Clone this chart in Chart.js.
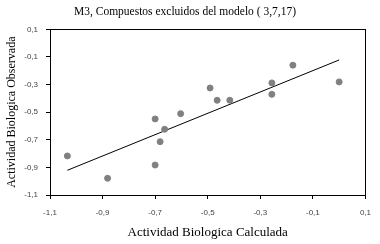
<!DOCTYPE html>
<html>
<head>
<meta charset="utf-8">
<script src="https://cdn.jsdelivr.net/npm/chart.js@4"></script>
<style>
  html, body { margin: 0; padding: 0; background: #fff; }
  #wrap { width: 380px; height: 244px; }
</style>
</head>
<body>
<div id="wrap"><canvas id="myChart"></canvas></div>
<script>
// calculated (x) vs observed (y) activity
const calculada = [-1.034, -0.881, -0.700, -0.700, -0.681, -0.664, -0.603, -0.491, -0.464, -0.416, -0.256, -0.256, -0.176, 0.000];
const observada = [-0.817, -0.979, -0.549, -0.883, -0.714, -0.624, -0.511, -0.325, -0.414, -0.414, -0.288, -0.371, -0.160, -0.281];

// fitted line end points
const lineX = [-1.034, 0.000];
const lineY = [-0.921, -0.122];

const xTicks = [-1.1, -0.9, -0.7, -0.5, -0.3, -0.1, 0.1];
const yTicks = [-1.1, -0.9, -0.7, -0.5, -0.3, -0.1, 0.1];

const fmt = (v) => v.toFixed(1).replace('.', ',');

// frame around plot area
const frame = {
    id: 'frame',
    afterDraw(chart) {
        const a = chart.chartArea;
        const ctx = chart.ctx;
        ctx.save();
        ctx.strokeStyle = '#000';
        ctx.lineWidth = 1;
        ctx.strokeRect(Math.round(a.left) + 0.5, Math.round(a.top) + 0.5, Math.round(a.right - a.left), Math.round(a.bottom - a.top));
        ctx.restore();
    }
};

const ctx = document.getElementById('myChart').getContext('2d');
new Chart(ctx, {
    type: 'scatter',
    data: {
        datasets: [
            {
                data: calculada.map((x, i) => ({ x: x, y: observada[i] })),
                backgroundColor: '#808080',
                borderColor: '#808080',
                pointRadius: 3,
                pointHoverRadius: 3,
            },
            {
                type: 'line',
                data: lineX.map((x, i) => ({ x: x, y: lineY[i] })),
                borderColor: '#000',
                borderWidth: 1,
                pointRadius: 0,
                fill: false,
            },
        ],
    },
    options: {
        responsive: true,
        maintainAspectRatio: false,
        animation: false,
        layout: { padding: { left: 0, right: 10, top: 0, bottom: 0 } },
        plugins: {
            legend: { display: false },
            tooltip: { enabled: false },
            title: {
                display: true,
                text: 'M3, Compuestos excluidos del modelo ( 3,7,17)',
                color: '#000',
                font: { family: 'Liberation Serif', size: 11.5, weight: 'normal' },
                padding: { top: 5, bottom: 10.5 },
            },
        },
        scales: {
            x: {
                type: 'linear',
                min: -1.1,
                max: 0.1,
                afterBuildTicks: (s) => { s.ticks = xTicks.map(v => ({ value: v })); },
                grid: { display: true, drawOnChartArea: false, drawTicks: true, tickLength: 4, color: '#000' },
                border: { display: true, color: '#000' },
                ticks: {
                    color: '#444',
                    padding: 9,
                    maxRotation: 0,
                    font: { family: 'Liberation Sans', size: 8 },
                    callback: (v) => fmt(v),
                },
                title: {
                    display: true,
                    text: 'Actividad Biologica Calculada',
                    color: '#000',
                    font: { family: 'Liberation Serif', size: 13 },
                    padding: { top: 2, bottom: 4 },
                },
                afterFit: (s) => { s.height = 49; },
            },
            y: {
                type: 'linear',
                min: -1.1,
                max: 0.1,
                afterBuildTicks: (s) => { s.ticks = yTicks.map(v => ({ value: v })); },
                grid: { display: true, drawOnChartArea: false, drawTicks: true, tickLength: 4, color: '#000' },
                border: { display: true, color: '#000' },
                ticks: {
                    color: '#444',
                    padding: 8,
                    font: { family: 'Liberation Sans', size: 8 },
                    callback: (v) => fmt(v),
                },
                title: {
                    display: true,
                    text: 'Actividad Biologica Observada',
                    color: '#000',
                    font: { family: 'Liberation Serif', size: 12 },
                    padding: { top: 5, bottom: 2 },
                },
                afterFit: (s) => { s.width = 50; },
            },
        },
    },
    plugins: [frame],
});
</script>
</body>
</html>
